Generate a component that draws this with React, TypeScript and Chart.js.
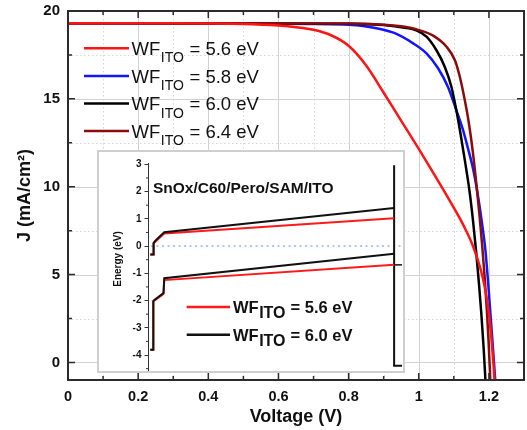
import React, { useEffect, useRef } from 'react';
import { Chart, registerables } from 'chart.js';

Chart.register(...registerables);

const FONT = "'Liberation Sans', Arial, Helvetica, sans-serif";

// ---------- Main J–V data ----------
const wfValues = ['5.6', '5.8', '6.0', '6.4'];
const seriesColors = ['#ff1414', '#1414ff', '#000000', '#8a0c0c'];

const v56 = [0, 0.3, 0.5, 0.6, 0.65, 0.7, 0.75, 0.8, 0.85, 0.9, 0.95, 1.0, 1.05, 1.1, 1.13, 1.155, 1.175, 1.19, 1.2, 1.207, 1.213, 1.216];
const j56 = [19.3, 19.3, 19.26, 19.17, 19.08, 18.93, 18.62, 18.02, 16.9, 15.35, 13.75, 12.15, 10.5, 8.8, 7.7, 6.6, 5.4, 4.1, 2.8, 1.4, -0.1, -1.0];

const v58 = [0, 0.6, 0.8, 0.85, 0.89, 0.93, 0.984, 1.022, 1.055, 1.083, 1.107, 1.125, 1.14, 1.155, 1.167, 1.179, 1.19, 1.198, 1.205, 1.212, 1.218];
const j58 = [19.3, 19.28, 19.22, 19.12, 18.98, 18.75, 18.16, 17.59, 16.74, 15.69, 14.36, 13.3, 12.2, 11.0, 9.7, 8.1, 6.38, 4.48, 2.58, 0.68, -1.0];

const v60 = [0, 0.8, 0.9, 0.96, 0.993, 1.022, 1.05, 1.074, 1.093, 1.107, 1.12, 1.133, 1.145, 1.155, 1.164, 1.172, 1.179, 1.185, 1.19];
const j60 = [19.3, 19.28, 19.2, 19.05, 18.9, 18.54, 17.78, 16.83, 15.69, 14.36, 12.9, 11.3, 9.7, 8.0, 6.2, 4.4, 2.6, 0.8, -1.0];

const v64 = [0, 0.8, 0.9, 0.96, 1.003, 1.041, 1.079, 1.103, 1.117, 1.131, 1.143, 1.154, 1.164, 1.173, 1.181, 1.188, 1.194, 1.199, 1.204];
const j64 = [19.3, 19.29, 19.22, 19.1, 18.9, 18.6, 17.97, 17.2, 16.26, 14.95, 13.6, 12.0, 10.2, 8.4, 6.6, 4.8, 3.0, 1.2, -1.0];

const xTickLabels = ['0', '0.2', '0.4', '0.6', '0.8', '1', '1.2'];

// ---------- Inset band diagram data ----------
const insetTitle = 'SnOx/C60/Pero/SAM/ITO';
const insetWf = ['5.6', '6.0'];
const insetColors = ['#ff1a1a', '#111111'];

const cbX = [0.9, 2.2, 2.2, 3.1, 6.4, 96.9];
const cbE60 = [-0.31, -0.31, 0.12, 0.22, 0.51, 1.4];
const cbE56 = [-0.31, -0.31, 0.1, 0.18, 0.46, 1.02];

const vbX = [0.9, 2.1, 2.1, 2.5, 6.1, 6.4, 96.9];
const vbE60 = [-3.81, -3.81, -2.02, -1.98, -1.72, -1.18, -0.28];
const vbE56 = [-3.81, -3.81, -2.02, -2.0, -1.76, -1.25, -0.69];

const elecX = [96.9, 96.9, 100];
const elecE = [2.97, -4.39, -4.39];
const elecTickX = [96.9, 100];
const elecTickE = [-0.69, -0.69];
const zeroX = [1.2, 100];
const zeroE = [0, 0];

const pts = (xs: number[], ys: number[]) => xs.map((x, i) => ({ x, y: ys[i] }));

function drawWF(
  ctx: CanvasRenderingContext2D,
  x: number,
  yBase: number,
  value: string,
  mainSize: number,
  subSize: number,
  subDrop: number,
  bold: boolean
) {
  const w = bold ? 'bold ' : '';
  ctx.fillStyle = '#111';
  ctx.textAlign = 'left';
  ctx.textBaseline = 'alphabetic';
  ctx.font = `${w}${mainSize}px ${FONT}`;
  ctx.fillText('WF', x, yBase);
  let cx = x + ctx.measureText('WF').width + 0.5;
  ctx.font = `${w}${subSize}px ${FONT}`;
  ctx.fillText('ITO', cx, yBase + subDrop);
  cx += ctx.measureText('ITO').width + 0.5;
  ctx.font = `${w}${mainSize}px ${FONT}`;
  ctx.fillText(` = ${value} eV`, cx, yBase);
}

const mainDecor = {
  id: 'mainDecor',
  beforeDatasetsDraw(chart: any) {
    const { ctx, chartArea: a, scales } = chart;
    const x = scales.x;
    const y = scales.y;
    ctx.save();
    ctx.lineWidth = 1;
    for (let i = 1; i <= 12; i++) {
      const px = Math.round(x.getPixelForValue(i / 10)) + 0.5;
      const major = i % 2 === 0;
      ctx.strokeStyle = major ? '#d2d2d2' : '#d6d6d6';
      ctx.setLineDash(major ? [] : [1.5, 2.5]);
      ctx.beginPath();
      ctx.moveTo(px, a.top);
      ctx.lineTo(px, a.bottom);
      ctx.stroke();
    }
    for (let k = 0; k <= 7; k++) {
      const v = k * 2.5;
      const py = Math.round(y.getPixelForValue(v)) + 0.5;
      const major = k % 2 === 0;
      ctx.strokeStyle = major ? '#d2d2d2' : '#d6d6d6';
      ctx.setLineDash(major ? [] : [1.5, 2.5]);
      ctx.beginPath();
      ctx.moveTo(a.left, py);
      ctx.lineTo(a.right, py);
      ctx.stroke();
    }
    ctx.restore();
  },
  afterDatasetsDraw(chart: any) {
    const { ctx, chartArea: a, scales } = chart;
    const x = scales.x;
    const y = scales.y;
    ctx.save();
    ctx.setLineDash([]);
    ctx.strokeStyle = '#2b2b2b';
    ctx.lineWidth = 1.5;
    for (let i = 1; i <= 12; i++) {
      const px = x.getPixelForValue(i / 10);
      const len = i % 2 === 0 ? 7 : 4;
      ctx.beginPath();
      ctx.moveTo(px, a.bottom);
      ctx.lineTo(px, a.bottom - len);
      ctx.moveTo(px, a.top);
      ctx.lineTo(px, a.top + len);
      ctx.stroke();
    }
    for (let k = 0; k <= 7; k++) {
      const py = y.getPixelForValue(k * 2.5);
      const len = k % 2 === 0 ? 7 : 4;
      ctx.beginPath();
      ctx.moveTo(a.left, py);
      ctx.lineTo(a.left + len, py);
      ctx.moveTo(a.right, py);
      ctx.lineTo(a.right - len, py);
      ctx.stroke();
    }
    ctx.lineWidth = 2;
    ctx.strokeRect(a.left, a.top, a.right - a.left, a.bottom - a.top);

    // legend
    wfValues.forEach((val, i) => {
      const ry = 48.3 + i * 27.6;
      ctx.strokeStyle = seriesColors[i];
      ctx.lineWidth = 2.5;
      ctx.beginPath();
      ctx.moveTo(84, ry);
      ctx.lineTo(129, ry);
      ctx.stroke();
      drawWF(ctx, 131.5, ry + 6.7, val, 18.5, 14, 7.3, false);
    });
    ctx.restore();
  },
};

const insetDecor = {
  id: 'insetDecor',
  afterDatasetsDraw(chart: any) {
    const { ctx, chartArea: a, scales } = chart;
    const y = scales.y;
    ctx.save();
    ctx.strokeStyle = '#333';
    ctx.lineWidth = 1;
    for (let k = -9; k <= 5; k += 2) {
      const py = y.getPixelForValue(k / 2);
      ctx.beginPath();
      ctx.moveTo(a.left, py);
      ctx.lineTo(a.left - 2, py);
      ctx.stroke();
    }
    // axis title
    ctx.fillStyle = '#111';
    ctx.font = `bold 10px ${FONT}`;
    ctx.textAlign = 'center';
    ctx.textBaseline = 'middle';
    ctx.translate(19, 107);
    ctx.rotate(-Math.PI / 2);
    ctx.fillText('Energy (eV)', 0, 0);
    ctx.restore();

    ctx.save();
    ctx.fillStyle = '#111';
    ctx.font = `bold 15.5px ${FONT}`;
    ctx.textAlign = 'left';
    ctx.textBaseline = 'alphabetic';
    ctx.fillText(insetTitle, 54, 40.7);
    insetWf.forEach((val, i) => {
      const ry = 155 + i * 27.7;
      ctx.strokeStyle = insetColors[i];
      ctx.lineWidth = 2.5;
      ctx.beginPath();
      ctx.moveTo(87.7, ry);
      ctx.lineTo(131, ry);
      ctx.stroke();
      drawWF(ctx, 134, ry + 5.8, val, 16.5, 16, 5.5, true);
    });
    ctx.restore();
  },
};

export default function App() {
  const mainRef = useRef<HTMLCanvasElement>(null);
  const insetRef = useRef<HTMLCanvasElement>(null);

  useEffect(() => {
    if (!mainRef.current || !insetRef.current) return;
    const mainChart = new Chart(mainRef.current, {
      type: 'line',
      data: {
        datasets: [
          { data: pts(v56, j56), borderColor: seriesColors[0], order: 0 },
          { data: pts(v58, j58), borderColor: seriesColors[1], order: 3 },
          { data: pts(v60, j60), borderColor: seriesColors[2], order: 2 },
          { data: pts(v64, j64), borderColor: seriesColors[3], order: 1 },
        ].map((d) => ({
          ...d,
          borderWidth: 2.5,
          pointRadius: 0,
          pointHoverRadius: 0,
          fill: false,
          cubicInterpolationMode: 'monotone' as const,
        })),
      },
      options: {
        animation: false,
        responsive: false,
        devicePixelRatio: 1,
        layout: { padding: { top: 11, right: 3, left: 0, bottom: 0 } },
        plugins: { legend: { display: false }, tooltip: { enabled: false } },
        scales: {
          x: {
            type: 'linear',
            min: 0,
            max: 1.3,
            grid: { display: false, drawTicks: false },
            border: { display: false },
            ticks: {
              stepSize: 0.2,
              includeBounds: false,
              padding: 8,
              color: '#111',
              font: { family: FONT, size: 14.5, weight: 'bold' },
              callback: (v: any) => xTickLabels[Math.round(Number(v) / 0.2)] ?? '',
              maxRotation: 0,
            },
            title: {
              display: true,
              text: 'Voltage (V)',
              color: '#111',
              font: { family: FONT, size: 18, weight: 'bold' },
              padding: { top: 0, bottom: 2 },
            },
            afterFit: (s: any) => {
              s.height = 50;
              s.paddingLeft = 0;
              s.paddingRight = 0;
            },
          },
          y: {
            type: 'linear',
            min: -1,
            max: 20,
            grid: { display: false, drawTicks: false },
            border: { display: false },
            ticks: {
              stepSize: 5,
              includeBounds: false,
              padding: 8,
              color: '#111',
              font: { family: FONT, size: 15, weight: 'bold' },
            },
            title: {
              display: true,
              text: 'J (mA/cm²)',
              color: '#111',
              font: { family: FONT, size: 18, weight: 'bold' },
              padding: { top: 14, bottom: 0 },
            },
            afterFit: (s: any) => {
              s.width = 68;
              s.paddingTop = 0;
              s.paddingBottom = 0;
            },
          },
        },
      },
      plugins: [mainDecor],
    } as any);

    const insetChart = new Chart(insetRef.current, {
      type: 'line',
      data: {
        datasets: [
          { data: pts(cbX, cbE60), borderColor: insetColors[1], borderWidth: 2 },
          { data: pts(vbX, vbE60), borderColor: insetColors[1], borderWidth: 2 },
          { data: pts(cbX, cbE56), borderColor: insetColors[0], borderWidth: 2 },
          { data: pts(vbX, vbE56), borderColor: insetColors[0], borderWidth: 2 },
          { data: pts(elecX, elecE), borderColor: '#111', borderWidth: 2 },
          { data: pts(elecTickX, elecTickE), borderColor: '#111', borderWidth: 1.5 },
          { data: pts(zeroX, zeroE), borderColor: '#8fb8ee', borderWidth: 1.5, borderDash: [2, 3.5] },
        ].map((d) => ({ ...d, pointRadius: 0, pointHoverRadius: 0, fill: false, tension: 0 })),
      },
      options: {
        animation: false,
        responsive: false,
        devicePixelRatio: 1,
        layout: { padding: { top: 11, right: 1, left: 0, bottom: 1 } },
        plugins: { legend: { display: false }, tooltip: { enabled: false } },
        scales: {
          x: { type: 'linear', min: 0, max: 100, display: false },
          y: {
            type: 'linear',
            min: -4.55,
            max: 3.05,
            grid: { display: true, drawOnChartArea: false, drawTicks: true, tickLength: 3.5, color: '#333' },
            border: { display: true, color: '#333', width: 1 },
            ticks: {
              stepSize: 1,
              includeBounds: false,
              padding: 3,
              color: '#111',
              font: { family: FONT, size: 10, weight: 'bold' },
            },
            afterFit: (s: any) => {
              s.width = 49;
              s.paddingTop = 0;
              s.paddingBottom = 0;
            },
          },
        },
      },
      plugins: [insetDecor],
    } as any);

    return () => {
      mainChart.destroy();
      insetChart.destroy();
    };
  }, []);

  return (
    <div style={{ position: 'absolute', left: 0, top: 0, width: 527, height: 430, background: '#fff' }}>
      <canvas ref={mainRef} width={527} height={430} style={{ width: 527, height: 430, display: 'block' }} />
      <div
        style={{
          position: 'absolute',
          left: 97,
          top: 150,
          width: 304,
          height: 219,
          border: '2px solid #cfcfcf',
          background: '#fff',
        }}
      >
        <canvas ref={insetRef} width={304} height={219} style={{ width: 304, height: 219, display: 'block' }} />
      </div>
    </div>
  );
}
